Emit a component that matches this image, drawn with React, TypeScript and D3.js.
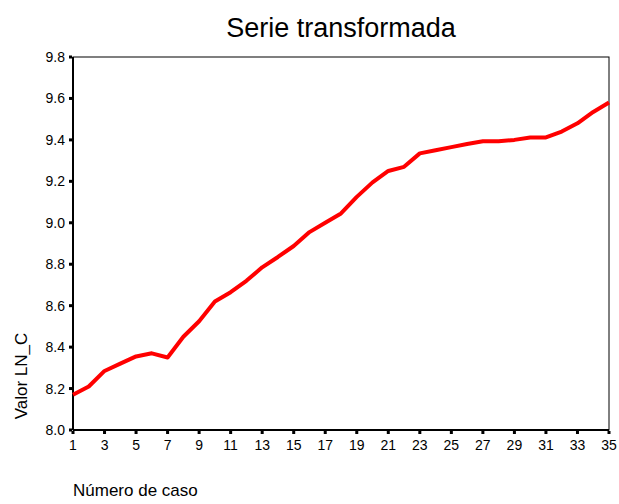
import React from "react";
import * as d3 from "d3";

const cases: number[] = Array.from({ length: 35 }, (_, i) => i + 1);
const values: number[] = [
  8.17, 8.21, 8.285, 8.32, 8.355, 8.37, 8.35, 8.45, 8.525, 8.62,
  8.665, 8.72, 8.785, 8.835, 8.888, 8.955, 9.0, 9.045, 9.125, 9.195,
  9.25, 9.27, 9.335, 9.35, 9.365, 9.38, 9.393, 9.393, 9.4, 9.412,
  9.412, 9.44, 9.48, 9.535, 9.58,
];
const xTicks: number[] = [1, 3, 5, 7, 9, 11, 13, 15, 17, 19, 21, 23, 25, 27, 29, 31, 33, 35];
const yTicks: number[] = [8.0, 8.2, 8.4, 8.6, 8.8, 9.0, 9.2, 9.4, 9.6, 9.8];

const W = 619, H = 504;
const L = 73, R = 609, T = 57, B = 430;

export default function App() {
  const x = d3.scaleLinear().domain([1, 35]).range([L, R]);
  const y = d3.scaleLinear().domain([8.0, 9.8]).range([B, T]);
  const line = d3.line<number>().x((_, i) => x(cases[i])).y((d) => y(d));
  const font = "Liberation Sans, Arial, sans-serif";
  return (
    <svg width={W} height={H} style={{ position: "absolute", left: 0, top: 0, background: "#fff" }} fontFamily={font}>
      <rect x={0} y={0} width={W} height={H} fill="#fff" />
      <text x={(L + R) / 2} y={37} textAnchor="middle" fontSize={27}>Serie transformada</text>
      <rect x={L} y={T} width={R - L} height={B - T} fill="none" stroke="#000" strokeWidth={1} />
      <line x1={L} y1={T} x2={L} y2={B} stroke="#000" strokeWidth={2} />
      <line x1={L} y1={B} x2={R} y2={B} stroke="#000" strokeWidth={2} />
      {yTicks.map((t) => (
        <g key={"y" + t}>
          <rect x={L - 4} y={y(t) - 1.5} width={3} height={3} fill="#000" />
          <text x={L - 8} y={y(t) + 5} textAnchor="end" fontSize={14}>{t.toFixed(1)}</text>
        </g>
      ))}
      {xTicks.map((t) => (
        <g key={"x" + t}>
          <rect x={x(t) - 1.5} y={B + 1} width={3} height={3} fill="#000" />
          <text x={x(t)} y={B + 20} textAnchor="middle" fontSize={14}>{t}</text>
        </g>
      ))}
      <path d={line(values) || ""} fill="none" stroke="#ff0000" strokeWidth={4} strokeLinejoin="round" />
      <text transform={`translate(27,${376}) rotate(-90)`} textAnchor="middle" fontSize={17}>Valor LN_C</text>
      <text x={L} y={496} fontSize={17}>Número de caso</text>
    </svg>
  );
}
